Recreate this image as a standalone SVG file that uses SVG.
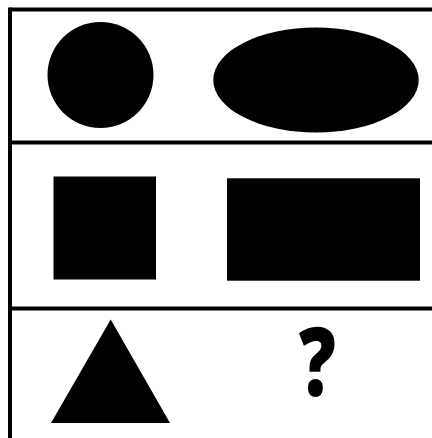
<svg xmlns="http://www.w3.org/2000/svg" width="432" height="438" viewBox="0 0 432 438">
<style>
.ln{stroke:#000;stroke-width:4;fill:none}
.sh{fill:#000}
.q{font-family:"Open Sans","Liberation Sans",sans-serif;font-weight:800;font-size:96px;fill:#000}
</style>
<rect width="432" height="438" fill="#fff"/>
<g id="grid">
<line class="ln" x1="10" y1="9.5" x2="432" y2="9.5"/>
<line class="ln" x1="10" y1="7.5" x2="10" y2="438"/>
<line class="ln" x1="10" y1="142.5" x2="432" y2="142.5"/>
<line class="ln" x1="10" y1="308.5" x2="432" y2="308.5"/>
</g>
<g id="circle"><circle class="sh" cx="100.5" cy="75" r="53"/></g>
<g id="ellipse"><ellipse class="sh" cx="316" cy="80" rx="102.7" ry="52.5"/></g>
<g id="square"><rect class="sh" x="53.5" y="176.5" width="102.5" height="103"/></g>
<g id="rectangle"><rect class="sh" x="227" y="178.3" width="193" height="102.4"/></g>
<g id="triangle"><polygon class="sh" points="51,423 110.7,319.5 170,423"/></g>
<g id="question"><text class="q" transform="translate(317.5,395.5) scale(0.76,1)" x="0" y="0" text-anchor="middle">?</text></g>
</svg>
